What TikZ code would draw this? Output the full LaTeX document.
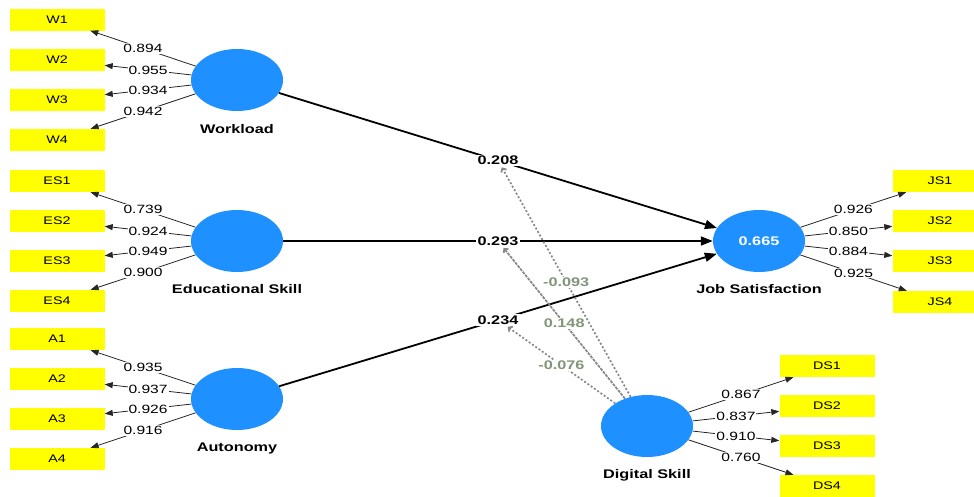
\documentclass[tikz,border=0pt]{standalone}
\usepackage{fontspec}
\setmainfont{Liberation Sans}[FakeStretch=1.3]
\usetikzlibrary{positioning, arrows.meta, shapes.geometric}
\definecolor{latent_blue}{RGB}{30, 144, 255}
\definecolor{item_yellow}{RGB}{255, 255, 0}
\definecolor{mod_gray}{RGB}{135, 135, 135}
\definecolor{mod_text}{RGB}{130, 148, 122}
\tikzstyle{latent}=[ellipse, fill=latent_blue, minimum width=92pt, minimum height=62pt, inner sep=0pt]
\tikzstyle{latentname}=[font=\fontsize{12.5}{14}\selectfont\bfseries]
\tikzstyle{indicator}=[rectangle, fill=item_yellow, minimum width=95pt, minimum height=22pt, font=\fontsize{11}{13}\selectfont]
\tikzstyle{loading}=[-{Triangle[length=8pt, width=6pt]}, line width=0.8pt, color=black!85]
\tikzstyle{loadlabel}=[fill=white, inner sep=1pt, text=black, font=\fontsize{12}{14}\selectfont]
\tikzstyle{structural}=[-{Triangle[length=12pt, width=9pt]}, line width=1.8pt]
\tikzstyle{pathlabel}=[fill=white, inner sep=1.5pt, font=\fontsize{12.5}{14}\selectfont\bfseries]
\tikzstyle{moderation}=[-{Straight Barb[length=3pt, width=6pt]}, color=mod_gray, line width=1.7pt, dash pattern=on 2pt off 2pt]
\tikzstyle{modlabel}=[fill=white, inner sep=1pt, text=mod_text, font=\fontsize{12.5}{14}\selectfont\bfseries]

\begin{document}
\begin{tikzpicture}[x=1pt, y=-1pt]
    \useasboundingbox (0, 0) rectangle (974, 496);
    % latent variables
    \node[latent] (W) at (237, 80) {};
    \node[latentname] (Wname) at (237, 129) {Workload};
    \node[latent] (ES) at (237, 241) {};
    \node[latentname] (ESname) at (237, 289) {Educational Skill};
    \node[latent] (A) at (237, 399) {};
    \node[latentname] (Aname) at (237, 448) {Autonomy};
    \node[latent, text=white, font=\fontsize{12.5}{14}\selectfont\bfseries] (JS) at (759, 241) {0.665};
    \node[latentname] (JSname) at (759, 289) {Job Satisfaction};
    \node[latent] (DS) at (647, 426) {};
    \node[latentname] (DSname) at (647, 475) {Digital Skill};

    % indicators
    \node[indicator] (W1) at (57, 19.5) {W1};
    \node[indicator] (W2) at (57, 60) {W2};
    \node[indicator] (W3) at (57, 100) {W3};
    \node[indicator] (W4) at (57, 140) {W4};
    \node[indicator] (ES1) at (57, 181) {ES1};
    \node[indicator] (ES2) at (57, 221) {ES2};
    \node[indicator] (ES3) at (57, 261) {ES3};
    \node[indicator] (ES4) at (57, 301) {ES4};
    \node[indicator] (A1) at (57, 339) {A1};
    \node[indicator] (A2) at (57, 379) {A2};
    \node[indicator] (A3) at (57, 419) {A3};
    \node[indicator] (A4) at (57, 459) {A4};
    \node[indicator] (JS1) at (940, 181) {JS1};
    \node[indicator] (JS2) at (940, 221) {JS2};
    \node[indicator] (JS3) at (940, 261) {JS3};
    \node[indicator] (JS4) at (940, 302) {JS4};
    \node[indicator] (DS1) at (827, 366) {DS1};
    \node[indicator] (DS2) at (827, 406) {DS2};
    \node[indicator] (DS3) at (827, 446) {DS3};
    \node[indicator] (DS4) at (827, 486) {DS4};

    % outer loadings
    \draw[loading] (W) -- node[loadlabel] {0.894} (W1);
    \draw[loading] (W) -- node[loadlabel] {0.955} (W2);
    \draw[loading] (W) -- node[loadlabel] {0.934} (W3);
    \draw[loading] (W) -- node[loadlabel] {0.942} (W4);
    \draw[loading] (ES) -- node[loadlabel] {0.739} (ES1);
    \draw[loading] (ES) -- node[loadlabel] {0.924} (ES2);
    \draw[loading] (ES) -- node[loadlabel] {0.949} (ES3);
    \draw[loading] (ES) -- node[loadlabel] {0.900} (ES4);
    \draw[loading] (A) -- node[loadlabel] {0.935} (A1);
    \draw[loading] (A) -- node[loadlabel] {0.937} (A2);
    \draw[loading] (A) -- node[loadlabel] {0.926} (A3);
    \draw[loading] (A) -- node[loadlabel] {0.916} (A4);
    \draw[loading] (JS) -- node[loadlabel] {0.926} (JS1);
    \draw[loading] (JS) -- node[loadlabel] {0.850} (JS2);
    \draw[loading] (JS) -- node[loadlabel] {0.884} (JS3);
    \draw[loading] (JS) -- node[loadlabel] {0.925} (JS4);
    \draw[loading] (DS) -- node[loadlabel] {0.867} (DS1);
    \draw[loading] (DS) -- node[loadlabel] {0.837} (DS2);
    \draw[loading] (DS) -- node[loadlabel] {0.910} (DS3);
    \draw[loading] (DS) -- node[loadlabel] {0.760} (DS4);

    % path coefficients
    \draw[structural] (W) -- node[pathlabel] (wjs) {0.208} (JS);
    \draw[structural] (ES) -- node[pathlabel] (esjs) {0.293} (JS);
    \draw[structural] (A) -- node[pathlabel] (ajs) {0.234} (JS);

    % moderating effects
    \draw[moderation] (DS) -- node[modlabel] {-0.093} (wjs);
    \draw[moderation, dash pattern=on 3pt off 1pt] (DS) -- node[modlabel] {0.148} (esjs);
    \draw[moderation] (DS) -- node[modlabel] {-0.076} (ajs);
\end{tikzpicture}
\end{document}
